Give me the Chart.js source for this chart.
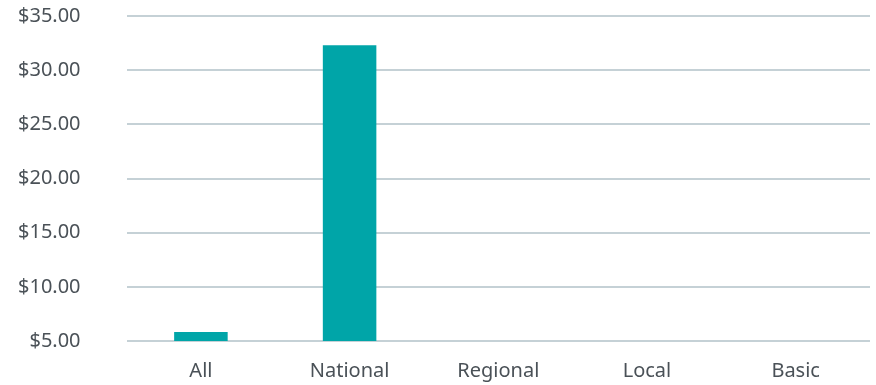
<!DOCTYPE html>
<html>
<head>
<meta charset="utf-8">
<script src="https://cdn.jsdelivr.net/npm/chart.js@4"></script>
<style>
  html, body { margin: 0; padding: 0; background: #fff; }
  canvas { display: block; }
</style>
</head>
<body>
<canvas id="myChart" width="876" height="385"></canvas>
<script>
const categories = ['All', 'National', 'Regional', 'Local', 'Basic'];
const prices = [5.83, 32.3, null, null, null];
const yMin = 5;
const yMax = 35;
const yStep = 5;

const ctx = document.getElementById('myChart').getContext('2d');
const myChart = new Chart(ctx, {
    type: 'bar',
    data: {
        labels: categories,
        datasets: [{
            data: prices,
            backgroundColor: '#00a5a8',
            borderWidth: 0,
            barPercentage: 0.45,
            categoryPercentage: 0.8
        }]
    },
    options: {
        responsive: false,
        animation: false,
        layout: { padding: { top: 16, right: 6, left: 18, bottom: 2 } },
        plugins: {
            legend: { display: false },
            tooltip: { enabled: false }
        },
        scales: {
            x: {
                grid: { display: false, drawTicks: false },
                border: { display: false },
                ticks: {
                    color: '#4a5157',
                    font: { family: 'Noto Sans', size: 20 },
                    padding: 18
                },
                // fit() counts the tick padding twice
                afterFit: (scale) => {
                    scale.height -= 18;
                }
            },
            y: {
                min: yMin,
                max: yMax,
                grid: { color: '#c5d1d6', lineWidth: 2, drawTicks: false },
                border: { display: false },
                ticks: {
                    stepSize: yStep,
                    color: '#4a5157',
                    font: { family: 'Noto Sans', size: 20 },
                    padding: 46,
                    callback: (v) => '$' + v.toFixed(2)
                },
                // tick padding also pads top/bottom of a vertical axis; undo that
                afterFit: (scale) => {
                    scale.paddingTop = 12;
                    scale.paddingBottom = 12;
                    scale.width -= 46;
                }
            }
        }
    }
});
</script>
</body>
</html>
